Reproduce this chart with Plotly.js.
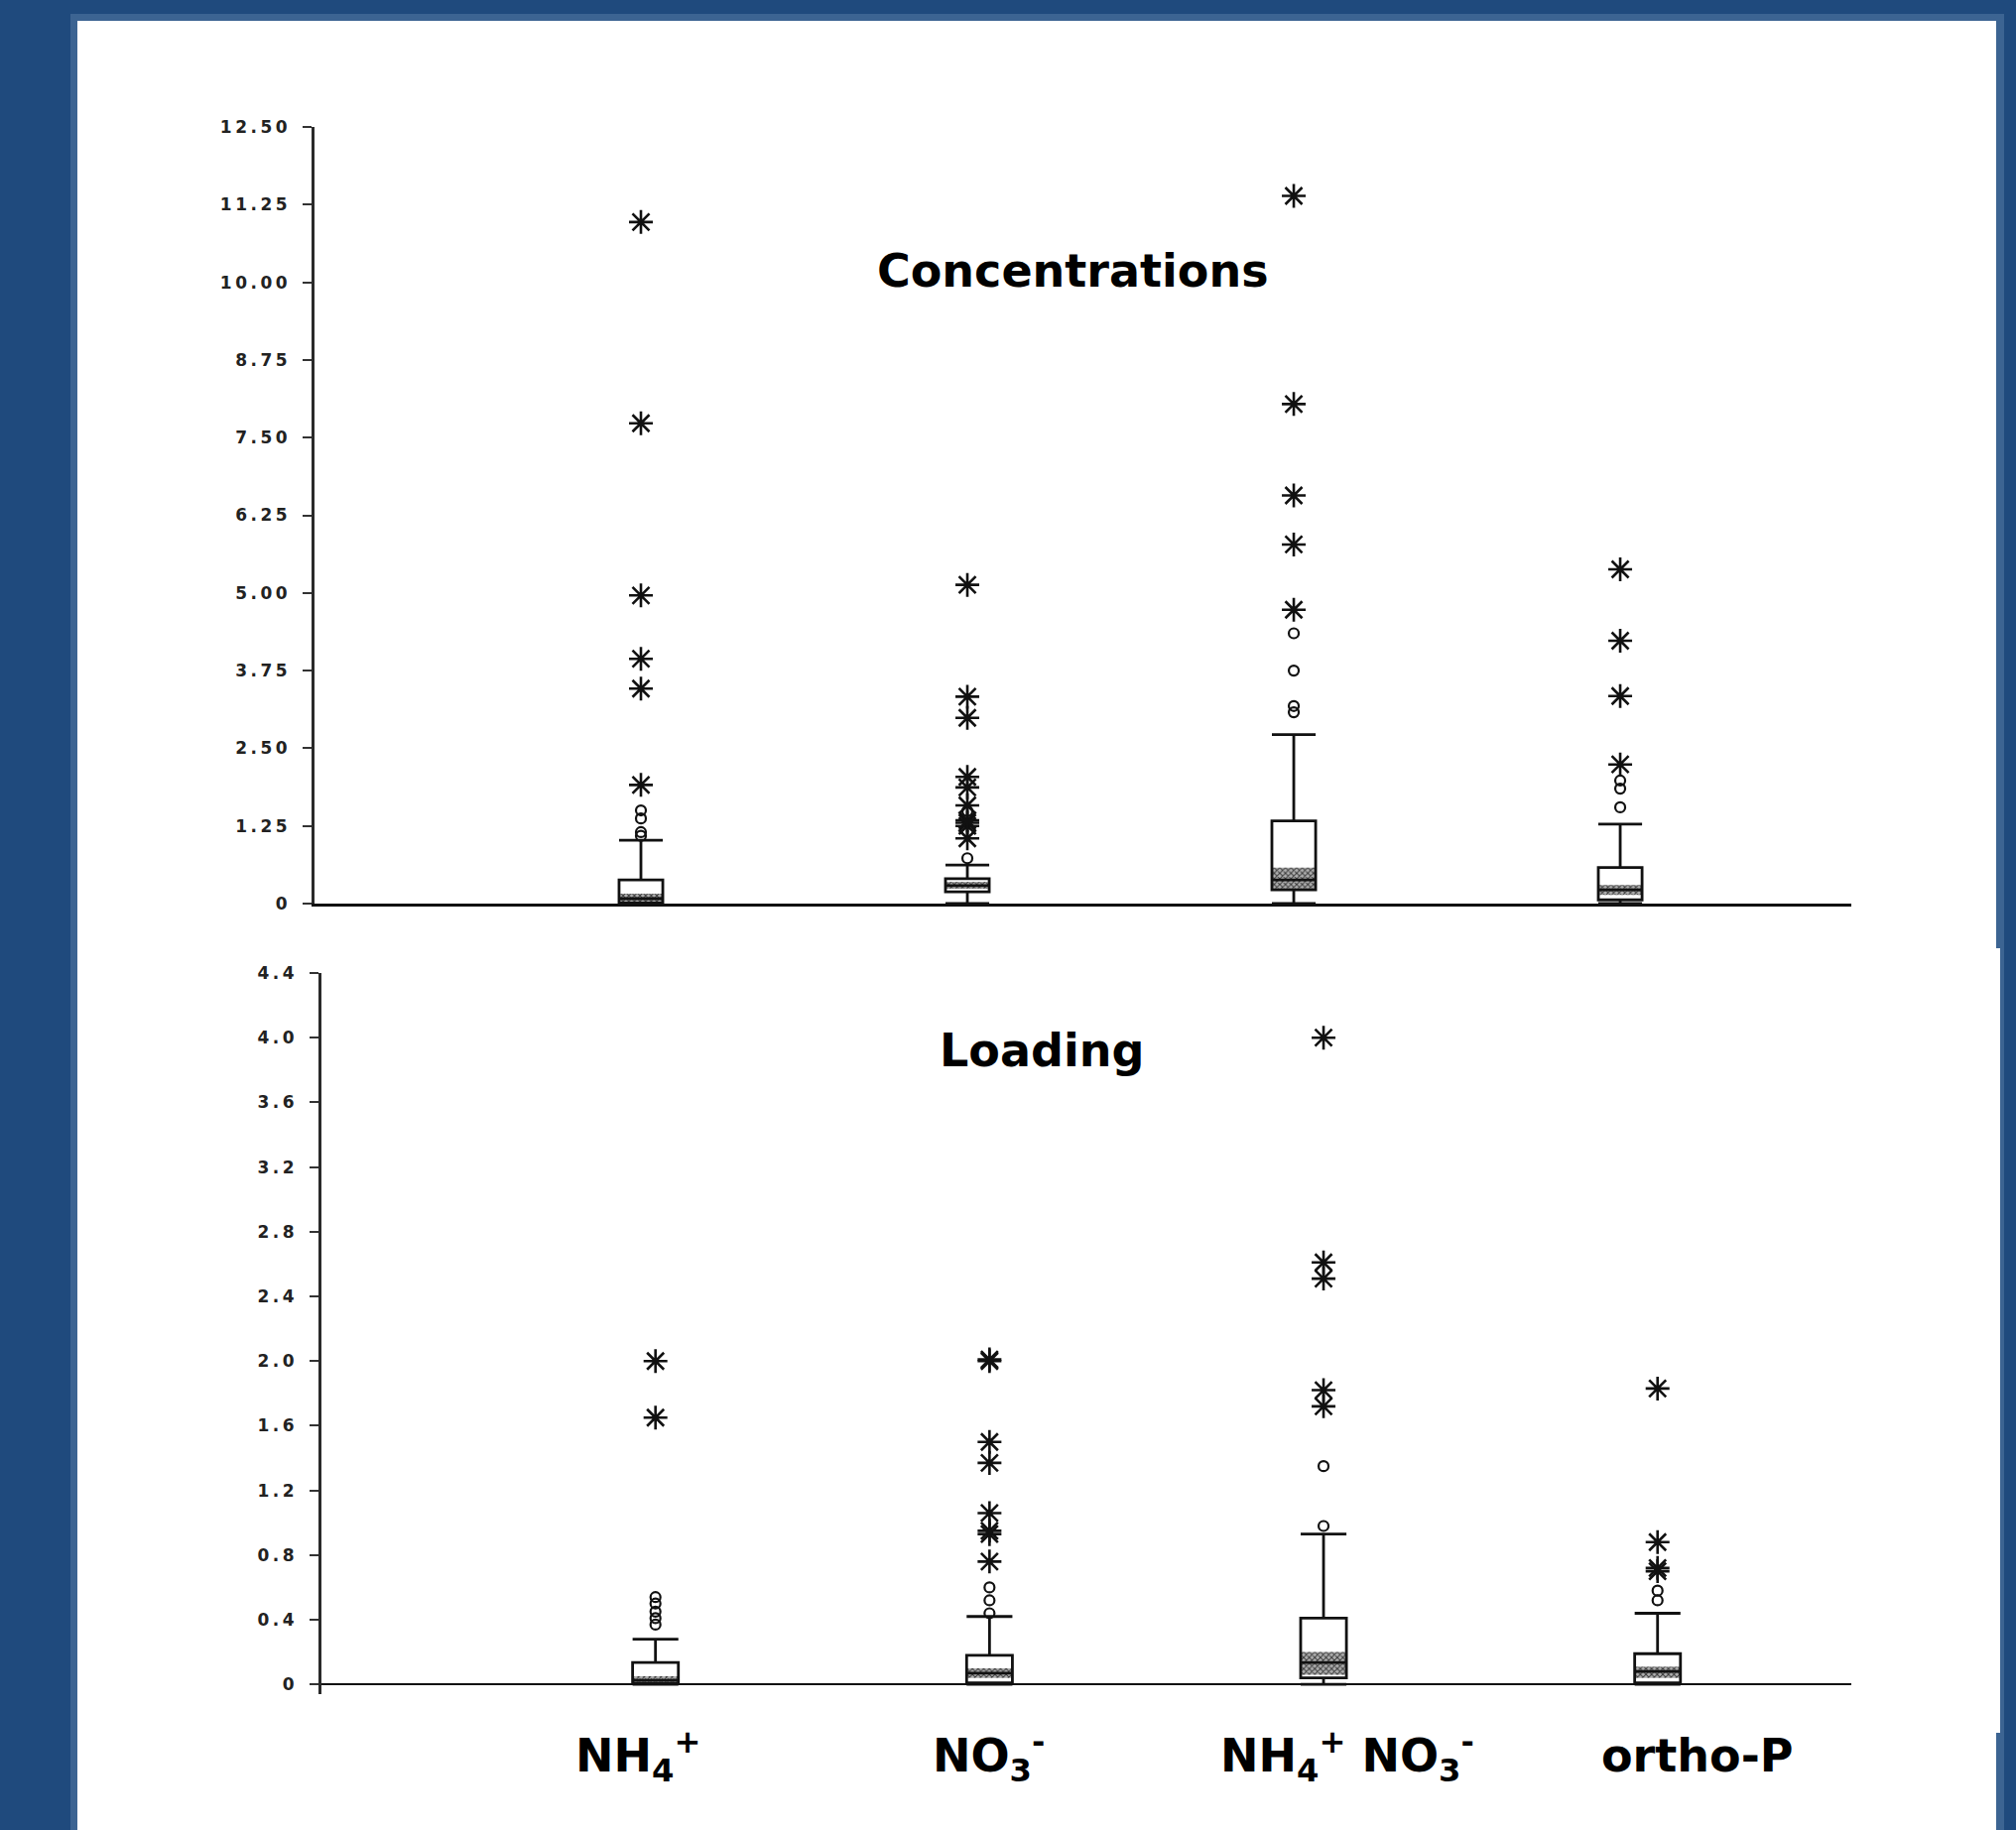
<!DOCTYPE html>
<html>
<head>
<meta charset="utf-8">
<script src="https://cdn.plot.ly/plotly-3.0.1.min.js"></script>
<style>
  html, body { margin: 0; padding: 0; background: #1F4A7D; overflow: hidden; }
  #chart { width: 2032px; height: 1845px; }
  .yaxislayer-above text { letter-spacing: 3.5px; }
</style>
</head>
<body>
<div id="chart"></div>
<script>
// ---------------- DATA ----------------
const categories = ['NH4+', 'NO3-', 'NH4+ NO3-', 'ortho-P'];
const categoryLabels = [
  'NH<sub>4</sub><sup>+</sup>',
  'NO<sub>3</sub><sup>-</sup>',
  'NH<sub>4</sub><sup>+</sup> NO<sub>3</sub><sup>-</sup>',
  'ortho-P'
];

// Concentrations (top panel)
const concLower  = [0, 0, 0, 0];
const concQ1     = [0.01, 0.19, 0.22, 0.06];
const concMedian = [0.08, 0.29, 0.38, 0.22];
const concQ3     = [0.38, 0.40, 1.33, 0.58];
const concUpper  = [1.02, 0.62, 2.72, 1.28];
const concBandLo = [0.03, 0.24, 0.22, 0.14];
const concBandHi = [0.16, 0.35, 0.58, 0.30];
const concOutliers = [
  [1.09, 1.15, 1.37, 1.50],
  [0.73, 1.49],
  [3.08, 3.18, 3.75, 4.35],
  [1.55, 1.85, 1.98]
];
const concExtremes = [
  [1.91, 3.46, 3.94, 4.96, 7.73, 10.97],
  [1.05, 1.25, 1.30, 1.34, 1.58, 1.87, 2.04, 2.99, 3.33, 5.13],
  [4.73, 5.78, 6.57, 8.04, 11.39],
  [2.24, 3.34, 4.23, 5.38]
];
const concTickVals = [0, 1.25, 2.5, 3.75, 5, 6.25, 7.5, 8.75, 10, 11.25, 12.5];
const concTickText = ['0', '1.25', '2.50', '3.75', '5.00', '6.25', '7.50', '8.75', '10.00', '11.25', '12.50'];

// Loading (bottom panel)
const loadLower  = [0, 0, 0, 0];
const loadQ1     = [0.005, 0.01, 0.04, 0.01];
const loadMedian = [0.025, 0.07, 0.135, 0.08];
const loadQ3     = [0.135, 0.18, 0.41, 0.19];
const loadUpper  = [0.28, 0.42, 0.93, 0.44];
const loadBandLo = [0.005, 0.04, 0.06, 0.04];
const loadBandHi = [0.05, 0.10, 0.20, 0.11];
const loadOutliers = [
  [0.37, 0.41, 0.45, 0.50, 0.54],
  [0.44, 0.52, 0.60],
  [0.98, 1.35],
  [0.52, 0.58]
];
const loadExtremes = [
  [1.65, 2.00],
  [0.76, 0.93, 0.95, 1.06, 1.37, 1.50, 2.00, 2.01],
  [1.72, 1.82, 2.51, 2.61, 4.00],
  [0.70, 0.72, 0.88, 1.83]
];
const loadTickVals = [0, 0.4, 0.8, 1.2, 1.6, 2.0, 2.4, 2.8, 3.2, 3.6, 4.0, 4.4];
const loadTickText = ['0', '0.4', '0.8', '1.2', '1.6', '2.0', '2.4', '2.8', '3.2', '3.6', '4.0', '4.4'];

// ---------------- HELPERS ----------------
const W = 2032, H = 1845;
const px = x => x / W;
const py = y => 1 - y / H;
const positions = categories.map((c, i) => i + 1);

function flatten(groups) {
  const xs = [], ys = [];
  groups.forEach((vals, i) => vals.forEach(v => { xs.push(positions[i]); ys.push(v); }));
  return { x: xs, y: ys };
}

function panelTraces(xa, ya, lower, q1, med, q3, upper, bLo, bHi, outl, extr, bw) {
  const band = {
    type: 'bar', xaxis: xa, yaxis: ya, x: positions,
    base: bLo, y: bHi.map((h, i) => h - bLo[i]),
    width: bw,
    marker: {
      color: '#9a9a9a',
      line: { width: 0 },
      pattern: { shape: 'x', size: 4, solidity: 0.45, fgcolor: '#3a3a3a', bgcolor: '#b0b0b0' }
    },
    hoverinfo: 'skip', showlegend: false
  };
  const box = {
    type: 'box', xaxis: xa, yaxis: ya, x: positions,
    q1: q1, median: med, q3: q3, lowerfence: lower, upperfence: upper,
    boxpoints: false, width: bw, whiskerwidth: 1,
    fillcolor: 'rgba(0,0,0,0)',
    line: { color: '#111111', width: 2.8 },
    hoverinfo: 'skip', showlegend: false
  };
  const o = flatten(outl);
  const circles = {
    type: 'scatter', mode: 'markers', xaxis: xa, yaxis: ya, x: o.x, y: o.y,
    marker: { symbol: 'circle-open', size: 10, color: '#111111', line: { width: 2.2, color: '#111111' } },
    hoverinfo: 'skip', showlegend: false
  };
  const e = flatten(extr);
  const stars = {
    type: 'scatter', mode: 'markers', xaxis: xa, yaxis: ya, x: e.x, y: e.y,
    marker: { symbol: 'asterisk-open', size: 20, color: '#111111', line: { width: 2.6, color: '#111111' } },
    hoverinfo: 'skip', showlegend: false
  };
  return [band, box, circles, stars];
}

const data = [].concat(
  panelTraces('x', 'y', concLower, concQ1, concMedian, concQ3, concUpper, concBandLo, concBandHi, concOutliers, concExtremes, 0.134),
  panelTraces('x2', 'y2', loadLower, loadQ1, loadMedian, loadQ3, loadUpper, loadBandLo, loadBandHi, loadOutliers, loadExtremes, 0.137)
);

const tickFont = { family: 'DejaVu Sans', size: 17, color: '#222222', weight: 'bold' };
const titleFont = { family: 'DejaVu Sans', size: 46, color: '#000000', weight: 'bold' };

const topDomainY = [py(911), py(128)];
const botDomainY = [py(1708), py(981)];

const layout = {
  width: W, height: H,
  margin: { l: 0, r: 0, t: 0, b: 0, pad: 0 },
  paper_bgcolor: '#1F4A7D',
  plot_bgcolor: 'rgba(0,0,0,0)',
  showlegend: false,
  barmode: 'overlay',
  xaxis: {
    domain: [px(317), px(1866)], anchor: 'y', range: [0, 4.708],
    showline: true, linecolor: '#111111', linewidth: 2.5,
    ticks: '', showticklabels: false, showgrid: false, zeroline: false, fixedrange: true
  },
  yaxis: {
    domain: topDomainY, anchor: 'x', range: [0, 12.5],
    showline: true, linecolor: '#2a2a2a', linewidth: 3.5,
    ticks: 'outside', ticklen: 9, tickwidth: 2, tickcolor: '#333333',
    tickvals: concTickVals, ticktext: concTickText, tickfont: tickFont,
    ticklabelstandoff: 8,
    showgrid: false, zeroline: false, fixedrange: true
  },
  yaxis3: {
    domain: topDomainY, anchor: 'x', overlaying: 'y', side: 'left', range: [0, 12.5],
    showline: false, ticks: 'inside', ticklen: 9, tickwidth: 2, tickcolor: '#333333',
    tickvals: concTickVals, showticklabels: false, showgrid: false, zeroline: false, fixedrange: true
  },
  xaxis2: {
    domain: [px(324), px(1866)], anchor: 'y2', range: [0, 4.58],
    showline: false, ticks: '', showticklabels: false, showgrid: false, zeroline: false, fixedrange: true
  },
  yaxis2: {
    domain: botDomainY, anchor: 'x2', range: [-0.06, 4.4],
    showline: true, linecolor: '#2a2a2a', linewidth: 3.5,
    ticks: 'outside', ticklen: 9, tickwidth: 2, tickcolor: '#333333',
    tickvals: loadTickVals, ticktext: loadTickText, tickfont: tickFont,
    ticklabelstandoff: 8,
    showgrid: false, zeroline: true, zerolinecolor: '#111111', zerolinewidth: 2.5, fixedrange: true
  },
  yaxis4: {
    domain: botDomainY, anchor: 'x2', overlaying: 'y2', side: 'left', range: [-0.06, 4.4],
    showline: false, ticks: 'inside', ticklen: 9, tickwidth: 2, tickcolor: '#333333',
    tickvals: loadTickVals, showticklabels: false, showgrid: false, zeroline: false, fixedrange: true
  },
  shapes: [
    { type: 'rect', xref: 'paper', yref: 'paper', layer: 'below',
      x0: px(71), x1: px(2020), y0: 0, y1: py(14), fillcolor: '#3C6492', line: { width: 0 } },
    { type: 'rect', xref: 'paper', yref: 'paper', layer: 'below',
      x0: px(78), x1: px(2012), y0: 0, y1: py(21), fillcolor: '#FFFFFF', line: { width: 0 } },
    { type: 'rect', xref: 'paper', yref: 'paper', layer: 'below',
      x0: px(2011), x1: px(2016), y0: py(1747), y1: py(956), fillcolor: '#FFFFFF', line: { width: 0 } }
  ],
  annotations: [
    { text: 'Concentrations', xref: 'paper', yref: 'paper', x: px(1081), y: py(273),
      xanchor: 'center', yanchor: 'middle', showarrow: false, font: titleFont },
    { text: 'Loading', xref: 'paper', yref: 'paper', x: px(1050), y: py(1059),
      xanchor: 'center', yanchor: 'middle', showarrow: false, font: titleFont }
  ].concat(categoryLabels.map((lab, i) => ({
    text: lab, xref: 'paper', yref: 'paper',
    x: px([643, 996, 1358, 1710][i]), y: py(1770),
    xanchor: 'center', yanchor: 'middle', showarrow: false, font: titleFont
  })))
};

Plotly.newPlot('chart', data, layout, { staticPlot: true, displayModeBar: false });
</script>
</body>
</html>
